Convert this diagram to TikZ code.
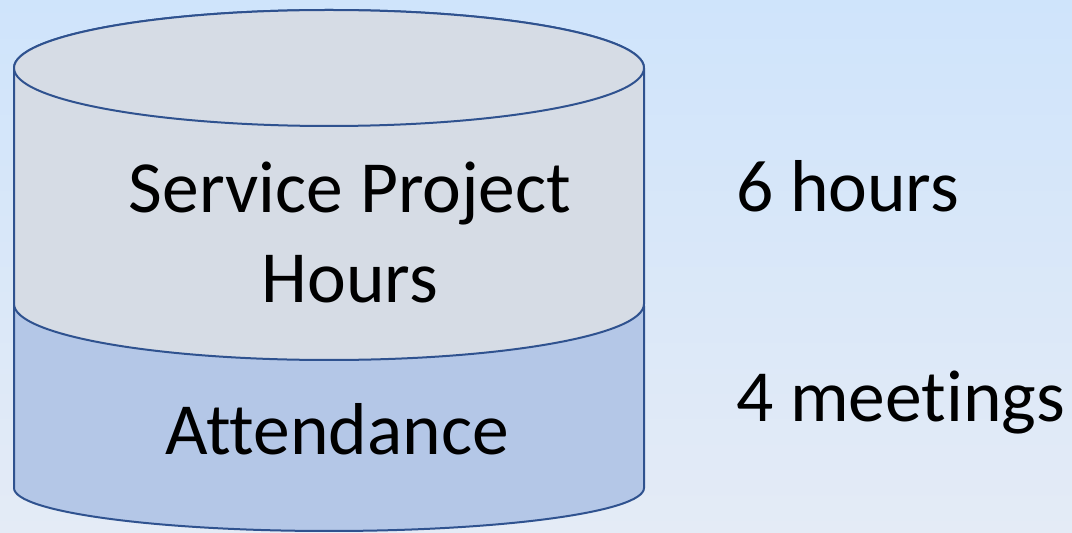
\documentclass[tikz,border=0pt]{standalone}
\usepackage{fontspec}
\setmainfont{Carlito}[Ligatures={NoCommon,TeX}]
\definecolor{bgtop}{HTML}{CFE4FB}
\definecolor{bgbot}{HTML}{E4EBF6}
\definecolor{rimblue}{HTML}{2F528F}
\definecolor{hourfill}{HTML}{D6DCE5}
\definecolor{meetfill}{HTML}{B4C7E7}
\begin{document}
\begin{tikzpicture}[x=1pt,y=1pt,
				can line/.style = {draw=rimblue, line width=2pt, line join=round},
				big text/.style = {inner sep=0pt, font=\fontsize{73.5}{90}\selectfont}]
				
				\shade[top color=bgtop, bottom color=bgbot] (0,0) rectangle (1072,533);
				\useasboundingbox (0,0) rectangle (1072,533);
				
				\path[can line, fill=meetfill] (14,227) -- (14,45) arc[start angle=180, end angle=360, x radius=315, y radius=43]
					-- (644,227) arc[start angle=0, end angle=180, x radius=315, y radius=43] -- cycle;
				\path[can line, fill=hourfill] (14,465) -- (14,229) arc[start angle=180, end angle=360, x radius=315, y radius=56]
					-- (644,465) arc[start angle=0, end angle=180, x radius=315, y radius=58] -- cycle;
				\path[can line, fill=hourfill] (329,465) ellipse [x radius=315, y radius=58];
				
				\node[big text, align=center, anchor=base] (service) at (350,230) {Service Project\\Hours};
				\node[big text, anchor=base] (attend) at (337,78) {Attendance};
				\node[big text, anchor=base west] (hours) at (736,321) {6 hours};
				\node[big text, anchor=base west] (meetings) at (736,111) {4 meetings};
				
				\end{tikzpicture}
\end{document}
